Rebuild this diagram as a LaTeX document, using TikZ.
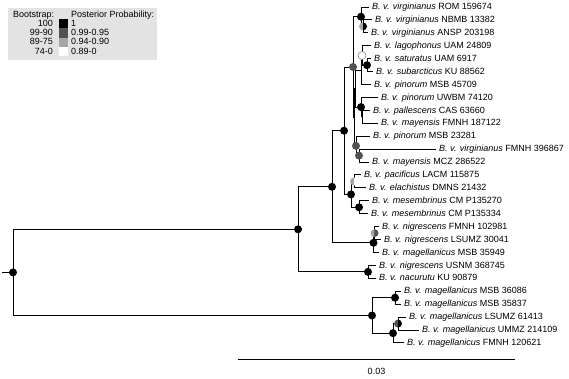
\documentclass[tikz,border=0pt]{standalone}
\usepackage{fontspec}
\setmainfont{Liberation Sans}
\usepackage{tikz}
\colorlet{dg}{black!68}
\colorlet{lg}{black!35}
\colorlet{legbg}{black!11}
% left half: bootstrap, right half: posterior probability
\newcommand{\bsnode}[4][none]{%
  \fill[#3] (#2) ++(90:4pt) arc[start angle=90,end angle=270,radius=4pt] -- cycle;
  \fill[#4] (#2) ++(-90:4pt) arc[start angle=-90,end angle=90,radius=4pt] -- cycle;
  \draw[draw=#1,line width=0.5pt] (#2) circle[radius=4pt];}

\begin{document}
\begin{tikzpicture}[x=1pt,y=-1pt,
        br/.style={line width=1pt},
        tax/.style={anchor=mid west, inner sep=0pt, xshift=3pt, font=\fontsize{9}{10}\selectfont},
        leg/.style={inner sep=0pt, font=\fontsize{9}{10}\selectfont},
    ]
    \fill[white] (0,0) rectangle (569,378);
    \useasboundingbox (0,0) rectangle (569,378);

    % legend
    \fill[legbg] (8,8) rectangle (157,60);
    \node[leg, anchor=mid west] (bt) at (13,15) {Bootstrap:};
    \node[leg, anchor=mid west] (pp) at (71,15) {Posterior Probability:};
    \foreach \bs/\pv/\cl [count=\j] in {100/1/black, 99-90/0.99-0.95/dg, 89-75/0.94-0.90/lg, 74-0/0.89-0/white} {
        \fill[\cl] (59,{9.75+9.25*\j}) rectangle (68,{19+9.25*\j});
        \node[leg, anchor=mid east] (b\j) at (53,{14.4+9.25*\j}) {\bs};
        \node[leg, anchor=mid west] (p\j) at (71,{14.4+9.25*\j}) {\pv};
    }

    % tips
    \foreach \xe/\ssp/\cod [count=\i] in {
        369/virginianus/ROM 159674, 372/virginianus/NBMB 13382, 368/virginianus/ANSP 203198,
        371/lagophonus/UAM 24809, 371/saturatus/UAM 6917, 373/subarcticus/KU 88562,
        371/pinorum/MSB 45709, 378/pinorum/UWBM 74120, 370/pallescens/CAS 63660,
        378/mayensis/FMNH 187122, 370/pinorum/MSB 23281, 436/virginianus/FMNH 396867,
        369/mayensis/MCZ 286522, 361/pacificus/LACM 115875, 366/elachistus/DMNS 21432,
        369/mesembrinus/CM P135270, 368/mesembrinus/CM P135334, 379/nigrescens/FMNH 102981,
        381/nigrescens/LSUMZ 30041, 379/magellanicus/MSB 35949, 376/nigrescens/USNM 368745,
        376/nacurutu/KU 90879, 401/magellanicus/MSB 36086, 401/magellanicus/MSB 35837,
        406/magellanicus/LSUMZ 61413, 419/magellanicus/UMMZ 214109, 404/magellanicus/FMNH 120621} {
        \coordinate (t\i) at (\xe,{7+12.92*(\i-1)});
        \node[tax] (l\i) at (t\i) {\textit{B. v. \ssp} \cod};
    }

    % internal nodes
    \coordinate (V1) at (363,26.4);
    \coordinate (V) at (361,16.7);
    \coordinate (S) at (367,65.2);
    \coordinate (K1) at (362,55.5);
    \coordinate (K) at (361,70.0);
    \coordinate (L1) at (362,116.9);
    \coordinate (L) at (361,107.1);
    \coordinate (F3) at (355,88.6);
    \coordinate (Q1) at (359,155.6);
    \coordinate (Q) at (356,145.9);
    \coordinate (F2) at (354,117.2);
    \coordinate (F) at (353,67.0);
    \coordinate (D1) at (354,181.5);
    \coordinate (D2) at (359,207.3);
    \coordinate (D) at (351,194.4);
    \coordinate (C) at (344,130.7);
    \coordinate (N2) at (374.5,233.1);
    \coordinate (N1) at (373.5,242.8);
    \coordinate (B) at (332,186.8);
    \coordinate (NA) at (368,271.9);
    \coordinate (A) at (298,229.3);
    \coordinate (M1) at (395,297.7);
    \coordinate (M3) at (398,323.6);
    \coordinate (M2) at (393,333.2);
    \coordinate (M) at (372,315.5);
    \coordinate (R) at (13,272.4);
    \coordinate (r0) at (2,272.4);

    \draw[br] (r0) -- (R);
    \foreach \p/\c in {R/A, R/M, A/B, A/NA, B/C, B/N1, C/F, C/D, F/V, F/F2, F2/F3, F2/Q,
        F3/K, F3/L, K/K1, K/t7, K1/t4, K1/S, S/t5, S/t6, V/t1, V/V1, V1/t2, V1/t3,
        L/t8, L/L1, L1/t9, L1/t10, Q/t11, Q/Q1, Q1/t12, Q1/t13, D/D1, D/D2,
        D1/t14, D1/t15, D2/t16, D2/t17, N1/N2, N1/t20, N2/t18, N2/t19, NA/t21, NA/t22,
        M/M1, M/M2, M1/t23, M1/t24, M2/M3, M2/t27, M3/t25, M3/t26}
        \draw[br] (\p) |- (\c);

    % support values
    \foreach \n in {R, A, B, C, D, D2, V, S, L, N1, NA, M, M1, M2}
        \bsnode{\n}{black}{black};
    \bsnode{V1}{lg}{black}
    \bsnode[gray]{K1}{white}{white}
    \bsnode{F}{dg}{dg}
    \bsnode{Q}{dg}{dg}
    \bsnode{Q1}{dg}{dg}
    \bsnode{D1}{lg}{white}
    \bsnode{N2}{lg}{dg}
    \bsnode{M3}{dg}{black}

    % scale bar
    \coordinate (s0) at (238,359);
    \coordinate (s1) at (515,359);
    \draw[br] (s0) -- (s1) node[leg, midway, below=9pt] (sl) {0.03};
\end{tikzpicture}
\end{document}
